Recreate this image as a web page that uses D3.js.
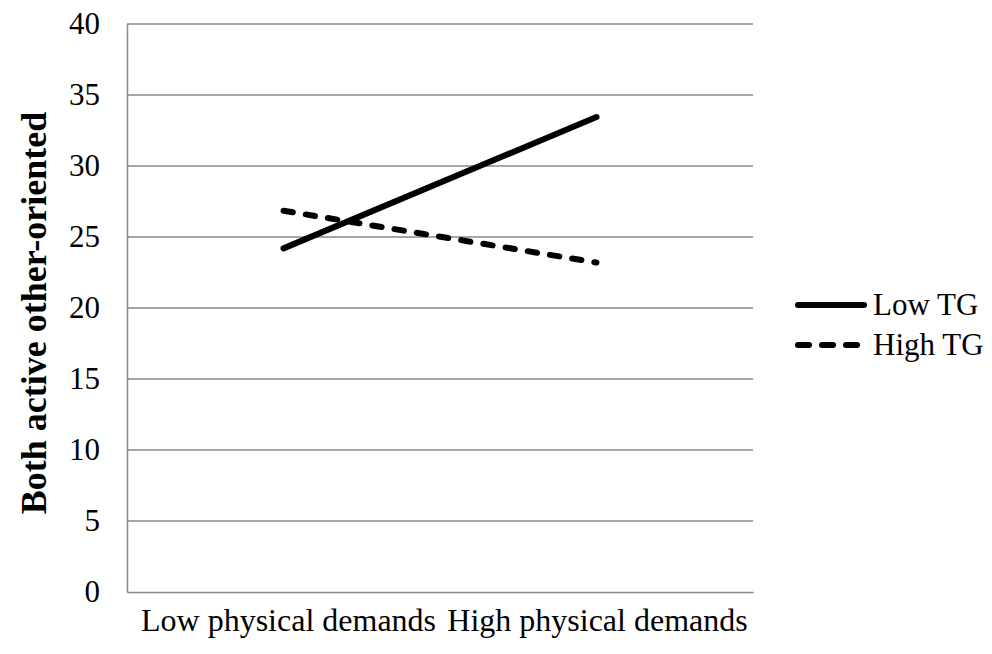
<!DOCTYPE html>
<html>
<head>
<meta charset="utf-8">
<script src="https://cdn.jsdelivr.net/npm/d3@7"></script>
<style>
  html, body { margin: 0; padding: 0; background: #fff; }
  svg { display: block; font-family: "Liberation Serif", "Times New Roman", serif; }
</style>
</head>
<body>
<svg id="chart" width="992" height="654"></svg>
<script>
const categories = ["Low physical demands", "High physical demands"];
const seriesNames = ["Low TG", "High TG"];
const lowTG = [24.2, 33.45];
const highTG = [26.85, 23.2];
const yTicks = [0, 5, 10, 15, 20, 25, 30, 35, 40];
const yTitle = "Both active other-oriented";

const series = [
  { name: seriesNames[0], values: lowTG, dash: null },
  { name: seriesNames[1], values: highTG, dash: "9.5,13" }
];

const svg = d3.select("#chart");
const margin = { left: 127, right: 239, top: 24, bottom: 62 };
const W = 992, H = 654;
const FS = 31;
const x = d3.scaleBand().domain(categories).range([margin.left, W - margin.right]).padding(0);
const y = d3.scaleLinear().domain([0, 40]).range([H - margin.bottom, margin.top]);

// gridlines
svg.append("g").selectAll("line").data(yTicks.filter(d => d > 0)).join("line")
  .attr("x1", margin.left).attr("x2", W - margin.right)
  .attr("y1", d => y(d)).attr("y2", d => y(d))
  .attr("stroke", "#898989").attr("stroke-width", 1.5);

// y axis
const yAxis = svg.append("g").attr("transform", `translate(${margin.left},0)`)
  .call(d3.axisLeft(y).tickValues(yTicks).tickSize(0).tickPadding(27));
yAxis.select(".domain").attr("stroke", "#898989").attr("stroke-width", 1.5);
yAxis.selectAll("text").attr("font-size", FS).attr("fill", "#000").attr("font-family", "Liberation Serif");

// x axis
const xAxis = svg.append("g").attr("transform", `translate(0,${H - margin.bottom})`)
  .call(d3.axisBottom(x).tickSize(0).tickPadding(16));
xAxis.select(".domain").attr("stroke", "#898989").attr("stroke-width", 1.5);
xAxis.selectAll("text").attr("font-size", 32).attr("fill", "#000").attr("font-family", "Liberation Serif")
  .attr("dx", (d, i) => i === 0 ? 5 : 1);

// y title
svg.append("text")
  .attr("transform", `translate(33,${(110 + 516) / 2}) rotate(-90)`)
  .attr("text-anchor", "middle")
  .attr("dy", "0.35em")
  .attr("font-size", 36).attr("font-weight", "bold")
  .text(yTitle);

// lines
const line = d3.line()
  .x((d, i) => x(categories[i]) + x.bandwidth() / 2)
  .y(d => y(d));

svg.append("g").selectAll("path").data(series).join("path")
  .attr("d", d => line(d.values))
  .attr("fill", "none")
  .attr("stroke", "#000")
  .attr("stroke-width", 6)
  .attr("stroke-linecap", "round")
  .attr("stroke-dasharray", d => d.dash);

// legend
const lg = svg.append("g").selectAll("g").data(series).join("g")
  .attr("transform", (d, i) => `translate(798,${305 + i * 40})`);
lg.append("line")
  .attr("x1", 0).attr("x2", (d, i) => i === 0 ? 66 : 60).attr("y1", 0).attr("y2", 0)
  .attr("stroke", "#000").attr("stroke-width", 6)
  .attr("stroke-linecap", "round")
  .attr("stroke-dasharray", d => d.dash ? "11,13" : null);
lg.append("text")
  .attr("x", 75).attr("y", 0).attr("dy", "0.33em")
  .attr("font-size", FS)
  .text(d => d.name);
</script>
</body>
</html>
